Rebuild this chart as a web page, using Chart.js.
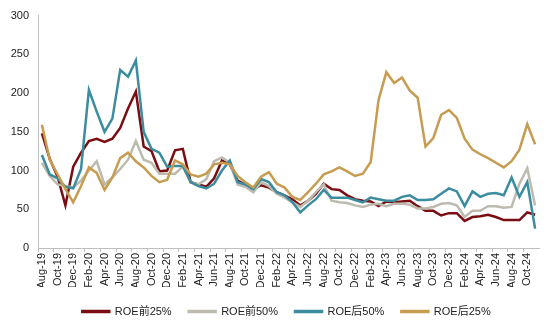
<!DOCTYPE html>
<html>
<head>
<meta charset="utf-8">
<script src="https://cdn.jsdelivr.net/npm/chart.js@4/dist/chart.umd.min.js"></script>
<style>
  body { margin: 0; background: #fff; }
  #wrap { width: 550px; height: 325px; }
</style>
</head>
<body>
<div id="wrap"><canvas id="roeChart"></canvas></div>
<script>
const months = [
  "Aug-19", "Sep-19", "Oct-19", "Nov-19", "Dec-19",
  "Jan-20", "Feb-20", "Mar-20", "Apr-20", "May-20", "Jun-20", "Jul-20", "Aug-20", "Sep-20", "Oct-20", "Nov-20", "Dec-20",
  "Jan-21", "Feb-21", "Mar-21", "Apr-21", "May-21", "Jun-21", "Jul-21", "Aug-21", "Sep-21", "Oct-21", "Nov-21", "Dec-21",
  "Jan-22", "Feb-22", "Mar-22", "Apr-22", "May-22", "Jun-22", "Jul-22", "Aug-22", "Sep-22", "Oct-22", "Nov-22", "Dec-22",
  "Jan-23", "Feb-23", "Mar-23", "Apr-23", "May-23", "Jun-23", "Jul-23", "Aug-23", "Sep-23", "Oct-23", "Nov-23", "Dec-23",
  "Jan-24", "Feb-24", "Mar-24", "Apr-24", "May-24", "Jun-24", "Jul-24", "Aug-24", "Sep-24", "Oct-24", "Nov-24"
];

const top25 = [148, 115, 92, 55, 105, 123, 138, 141, 137, 141, 155, 180, 202, 131, 125, 99,
  100, 126, 128, 85, 82, 79, 90, 113, 108, 87, 82, 76, 81, 78, 72, 68,
  63, 55, 61, 70, 83, 76, 75, 68, 63, 61, 60, 54, 60, 59, 60, 61,
  54, 48, 48, 42, 45, 45, 35, 40, 41, 43, 40, 36, 36, 36, 46, 43];

const top50 = [110, 93, 82, 80, 78, 87, 100, 112, 82, 91, 102, 114, 138, 114, 110, 96,
  96, 96, 105, 85, 82, 89, 112, 117, 110, 82, 79, 72, 85, 80, 70, 65,
  59, 53, 61, 72, 82, 61, 59, 58, 55, 53, 56, 57, 54, 57, 57, 56,
  51, 51, 53, 57, 58, 55, 40, 48, 48, 54, 54, 52, 53, 83, 103, 55];

const bottom50 = [120, 95, 90, 79, 77, 102, 204, 176, 150, 167, 230, 221, 242, 150, 128, 123,
  105, 106, 106, 85, 80, 77, 83, 100, 113, 85, 82, 76, 89, 85, 72, 68,
  59, 46, 55, 63, 75, 65, 65, 65, 62, 59, 65, 63, 61, 61, 66, 68,
  62, 62, 63, 70, 77, 73, 54, 73, 66, 70, 71, 68, 91, 66, 85, 25];

const bottom25 = [159, 114, 95, 76, 59, 80, 104, 97, 75, 91, 116, 123, 112, 104, 93, 85,
  88, 113, 108, 95, 92, 96, 108, 110, 108, 93, 85, 78, 92, 98, 83, 78,
  66, 62, 72, 83, 95, 99, 104, 99, 93, 96, 111, 191, 227, 213, 220, 203,
  194, 131, 142, 172, 178, 168, 141, 127, 121, 116, 110, 104, 112, 127, 160, 134];

const yTicks = [0, 50, 100, 150, 200, 250, 300];

const FONT = "Arial, 'Liberation Sans', 'Noto Sans CJK SC', sans-serif";
const AXIS_GRAY = "#BFBFBF";

const line = (label, data, color, order) => ({
  label,
  data,
  borderColor: color,
  backgroundColor: color,
  borderWidth: 2.5,
  pointRadius: 0,
  tension: 0,
  order,
});

// nudge the legend so it sits under the plot area like the original
const legendNudge = {
  id: "legendNudge",
  afterLayout(chart) {
    const lg = chart.legend;
    if (!lg) return;
    lg.left += 17;
    lg.right += 17;
    lg.top += 2;
    lg.bottom += 2;
  },
};

new Chart(document.getElementById("roeChart"), {
  type: "line",
  data: {
    labels: months,
    datasets: [
      line("ROE前25%", top25, "#7A0D12", 3),
      line("ROE前50%", top50, "#BDBBAF", 2),
      line("ROE后50%", bottom50, "#3A8C9E", 1),
      line("ROE后25%", bottom25, "#C69C50", 0),
    ],
  },
  plugins: [legendNudge],
  options: {
    responsive: true,
    maintainAspectRatio: false,
    animation: false,
    layout: { padding: { top: 13, right: 11, left: 0, bottom: 0 } },
    plugins: {
      tooltip: { enabled: false },
      legend: {
        position: "bottom",
        labels: {
          boxWidth: 27,
          boxHeight: 1,
          padding: 17,
          color: "#222",
          font: { family: FONT, size: 11 },
          sort: (a, b) => a.datasetIndex - b.datasetIndex,
        },
      },
    },
    scales: {
      x: {
        offset: true,
        afterFit: (scale) => { scale.height = 39; },
        grid: {
          offset: true,
          drawOnChartArea: false,
          drawTicks: true,
          tickLength: 4,
          color: (ctx) => (ctx.index % 2 === 0 ? AXIS_GRAY : "rgba(0,0,0,0)"),
        },
        border: { color: AXIS_GRAY },
        ticks: {
          autoSkip: false,
          minRotation: 90,
          maxRotation: 90,
          padding: 1,
          color: "#222",
          font: { family: FONT, size: 11 },
          callback: (v, i) => (i % 2 === 0 ? months[i] : ""),
        },
      },
      y: {
        min: yTicks[0],
        max: yTicks[yTicks.length - 1],
        afterFit: (scale) => { scale.width = 38; },
        afterBuildTicks: (scale) => { scale.ticks = yTicks.map((v) => ({ value: v })); },
        grid: { drawOnChartArea: false, drawTicks: false },
        border: { color: AXIS_GRAY },
        ticks: {
          padding: 9,
          color: "#222",
          font: { family: FONT, size: 11 },
        },
      },
    },
  },
});
</script>
</body>
</html>
